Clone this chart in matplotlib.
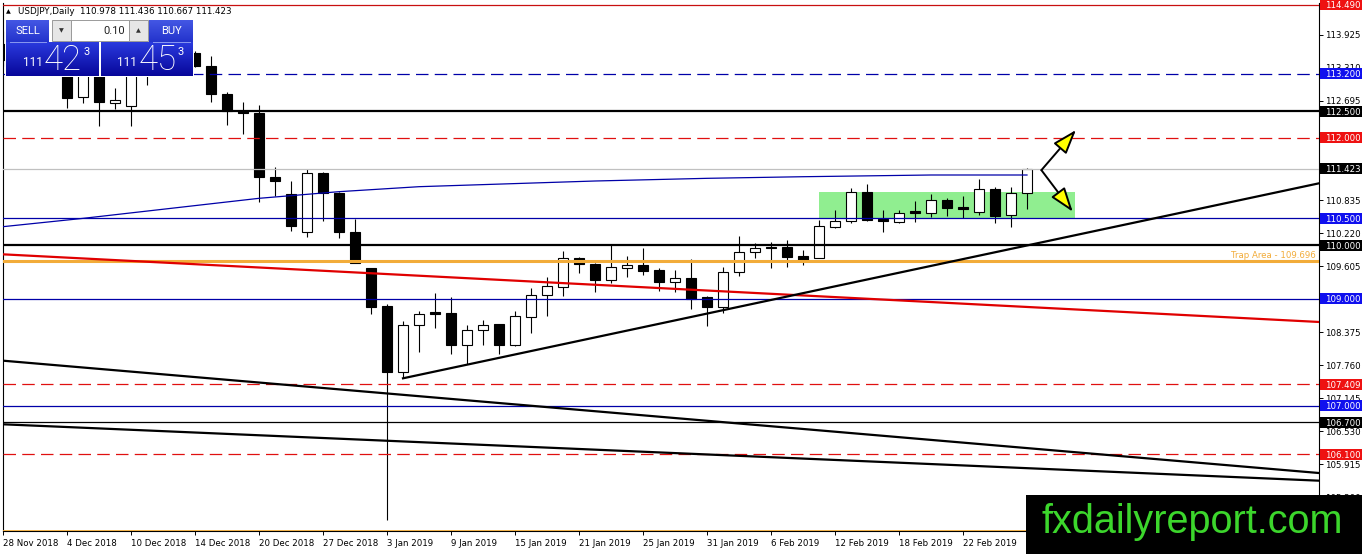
import matplotlib
matplotlib.use("Agg")
import matplotlib.pyplot as plt
import matplotlib.transforms as mtransforms
from matplotlib.patches import Rectangle, FancyArrowPatch
from matplotlib.colors import LinearSegmentedColormap
import numpy as np

plt.rcParams['lines.scale_dashes'] = False
plt.rcParams['font.family'] = ['DejaVu Sans']

# ---------------- data ----------------
symbol = "USDJPY,Daily"
opens = [113.75, 113.45, 113.40, 113.65, 113.60, 112.76, 113.25, 112.647, 112.602, 113.35,
         113.30, 113.60, 113.59, 113.343, 112.82, 112.509, 112.471, 111.272, 110.955, 110.251,
         111.341, 110.979, 110.246, 109.568, 108.865, 107.639, 108.505, 108.716, 108.729, 108.143,
         108.412, 108.524, 108.143, 108.665, 109.065, 109.225, 109.755, 109.649, 109.356, 109.58,
         109.63, 109.537, 109.318, 109.382, 109.027, 108.852, 109.494, 109.867, 109.956, 109.96,
         109.798, 109.766, 110.344, 110.451, 110.986, 110.46, 110.438, 110.61, 110.605, 110.843,
         110.684, 110.624, 111.048, 110.563, 110.978]
highs = [114.00, 113.65, 113.75, 113.85, 113.72, 113.30, 113.40, 112.93, 113.50, 113.60,
         113.75, 113.75, 113.62, 113.529, 112.852, 112.665, 112.615, 111.464, 111.197, 111.415,
         111.36, 110.998, 110.488, 109.574, 108.897, 108.585, 108.772, 109.113, 109.027, 108.505,
         108.604, 108.53, 108.772, 109.195, 109.40, 109.891, 109.774, 109.673, 110.003, 109.798,
         109.942, 109.58, 109.537, 109.736, 109.052, 109.587, 110.17, 110.035, 110.065, 110.096,
         109.91, 110.47, 110.656, 111.072, 111.141, 110.656, 110.656, 110.824, 110.955, 110.874,
         110.917, 111.229, 111.091, 111.091, 111.436]
lows = [113.35, 113.30, 113.30, 113.40, 112.56, 112.647, 112.23, 112.54, 112.23, 112.99,
        113.25, 113.35, 113.33, 112.677, 112.242, 112.074, 110.811, 110.917, 110.27, 110.158,
        110.456, 110.139, 109.66, 108.71, 104.87, 107.516, 108.012, 108.46, 107.97, 107.783,
        108.138, 107.97, 108.119, 108.367, 108.684, 109.052, 109.475, 109.132, 109.30, 109.412,
        109.443, 109.15, 109.132, 108.803, 108.492, 108.729, 109.425, 109.766, 109.565, 109.598,
        109.63, 109.755, 110.326, 110.419, 110.451, 110.251, 110.419, 110.438, 110.531, 110.55,
        110.501, 110.563, 110.419, 110.345, 110.667]
closes = [113.45, 113.40, 113.55, 113.62, 112.75, 113.20, 112.665, 112.703, 113.35, 113.30,
          113.60, 113.62, 113.348, 112.815, 112.509, 112.46, 111.266, 111.203, 110.363, 111.341,
          110.968, 110.246, 109.662, 108.852, 107.639, 108.505, 108.71, 108.72, 108.137, 108.412,
          108.505, 108.143, 108.673, 109.065, 109.233, 109.755, 109.643, 109.35, 109.593, 109.63,
          109.524, 109.318, 109.382, 108.996, 108.852, 109.494, 109.867, 109.941, 109.947, 109.785,
          109.71, 110.352, 110.456, 110.986, 110.464, 110.451, 110.594, 110.605, 110.837, 110.688,
          110.675, 111.042, 110.55, 110.968, 111.423]

date_tick_bars = [0, 4, 8, 12, 16, 20, 24, 28, 32, 36, 40, 44, 48, 52, 56, 60]
date_labels = ["28 Nov 2018", "4 Dec 2018", "10 Dec 2018", "14 Dec 2018", "20 Dec 2018",
               "27 Dec 2018", "3 Jan 2019", "9 Jan 2019", "15 Jan 2019", "21 Jan 2019",
               "25 Jan 2019", "31 Jan 2019", "6 Feb 2019", "12 Feb 2019", "18 Feb 2019",
               "22 Feb 2019"]

price_ticks = [113.925, 113.310, 112.695, 110.835, 110.220, 109.605,
               108.375, 107.760, 107.145, 106.530, 105.915, 105.300]

# horizontal levels
level_prices = [114.490, 113.200, 112.500, 112.000, 111.423, 110.500, 110.000, 109.696,
                109.000, 107.409, 107.000, 106.700, 106.100]
trap_label = "Trap Area - 109.696"

# moving average (read at a few bars)
ma_bars = [0, 5, 16, 21, 26, 37, 44, 50, 58, 64]
ma_values = [110.345, 110.50, 110.874, 110.998, 111.091, 111.197, 111.247, 111.277, 111.309, 111.309]

# trend lines (bar index, price)
red_line_bars, red_line_prices = [0, 82.25], [109.829, 108.567]
up_line_bars, up_line_prices = [25, 82.25], [107.516, 111.154]
down_a_bars, down_a_prices = [0, 82.25], [107.845, 105.749]
down_b_bars, down_b_prices = [0, 82.25], [106.658, 105.606]

# consolidation zone
zone_bars = [51.0, 67.0]
zone_prices = [110.512, 110.986]

# scenario arrows
arrow_start = (64.9, 111.40)
arrow_up_tip = (67.06, 112.148)
arrow_down_tip = (66.86, 110.624)

lot_size = "0.10"
bid_parts = ("111", "42", "3")
ask_parts = ("111", "45", "3")
watermark = "fxdailyreport.com"

# ---------------- figure ----------------
W, H = 1362, 554
fig = plt.figure(figsize=(W / 100, H / 100), dpi=100)
fig.patch.set_facecolor('white')
PX = 53.6          # pixels per price unit
BARPX = 16         # pixels per bar
l_px, r_px, t_px, b_px = 3, 1319, 3, 531
ax = fig.add_axes([l_px / W, 1 - b_px / H, (r_px - l_px) / W, (b_px - t_px) / H])
y_top = level_prices[0] + 1.5 / PX
y_bot = level_prices[0] - (b_px - 4.5) / PX
ax.set_ylim(y_bot, y_top)
ax.set_xlim(0, (r_px - l_px) / BARPX)
ax.set_facecolor('white')

ax.spines['top'].set_visible(False)
for s in ['left', 'right', 'bottom']:
    ax.spines[s].set_color('black')
    ax.spines[s].set_linewidth(0.8)

ax.yaxis.tick_right()
ax.set_yticks(price_ticks)
ax.set_yticklabels([f"{v:.3f}" for v in price_ticks])
ax.tick_params(axis='y', length=3, width=0.7, pad=1.5, labelsize=6.2, direction='out', colors='black')
ax.set_xticks(date_tick_bars)
ax.set_xticklabels(date_labels, ha='left')
ax.tick_params(axis='x', length=3, width=0.7, pad=2.5, labelsize=6.2, direction='out')

# zone (background)
ax.add_patch(Rectangle((zone_bars[0], zone_prices[0]), zone_bars[1] - zone_bars[0],
                       zone_prices[1] - zone_prices[0], fc='#90ee90', ec='none', zorder=1))

# candles
bw = 0.63
minh = 1.5 / PX
x = np.arange(len(opens))
ax.vlines(x, lows, highs, color='black', lw=0.8, zorder=2)
for i, (o, h, l, c) in enumerate(zip(opens, highs, lows, closes)):
    lo = min(o, c)
    hgt = max(abs(c - o), minh)
    fc = 'white' if c > o + 1e-9 else 'black'
    if abs(c - o) < minh:
        fc = 'black'
    ax.add_patch(Rectangle((i - bw / 2, lo), bw, hgt, fc=fc, ec='black', lw=0.8, zorder=2.5))

# levels
red = '#e01010'
navy = '#0000a8'
orange = '#f2ac3a'
dash = (0, (9, 4.5))
level_style = [
    dict(color='#c81010', lw=0.9, ls='-'),     # 114.49
    dict(color=navy, lw=0.9, ls=dash),          # 113.2
    dict(color='black', lw=1.6, ls='-'),        # 112.5
    dict(color=red, lw=0.9, ls=dash),           # 112.0
    dict(color='#c0c0c0', lw=0.9, ls='-'),      # 111.423
    dict(color=navy, lw=0.9, ls='-'),           # 110.5
    dict(color='black', lw=1.6, ls='-'),        # 110.0
    dict(color=orange, lw=2.2, ls='-'),         # 109.696
    dict(color=navy, lw=0.9, ls='-'),           # 109.0
    dict(color=red, lw=0.9, ls=dash),           # 107.409
    dict(color=navy, lw=0.9, ls='-'),           # 107.0
    dict(color='black', lw=0.9, ls='-'),        # 106.7
    dict(color=red, lw=0.9, ls=dash),           # 106.1
]
for p, st in zip(level_prices, level_style):
    ax.axhline(p, zorder=3, **st)
ax.axhline(y_bot + 0.5 / PX, color=orange, lw=2.0, zorder=3)

ax.text((1316 - l_px) / (r_px - l_px), level_prices[7] + 1.2 / PX, trap_label,
        transform=mtransforms.blended_transform_factory(ax.transAxes, ax.transData),
        ha='right', va='bottom', color=orange, fontsize=6.2, zorder=4)

# MA and trend lines
ax.plot(ma_bars, ma_values, color=navy, lw=0.9, zorder=3)
ax.plot(red_line_bars, red_line_prices, color='#e00000', lw=1.6, zorder=3)
ax.plot(up_line_bars, up_line_prices, color='black', lw=1.6, zorder=3)
ax.plot(down_a_bars, down_a_prices, color='black', lw=1.6, zorder=3)
ax.plot(down_b_bars, down_b_prices, color='black', lw=1.6, zorder=3)

for tip in (arrow_up_tip, arrow_down_tip):
    ax.add_patch(FancyArrowPatch(arrow_start, tip,
                                 arrowstyle='-|>,head_length=0.75,head_width=0.26',
                                 mutation_scale=20, fc='#ffff00', ec='black', lw=1.4,
                                 shrinkA=0, shrinkB=0, zorder=6))

# right axis label boxes
trans = mtransforms.blended_transform_factory(fig.transFigure, ax.transData)
box_colors = ['#ee1111', '#1010ee', 'black', '#ee1111', 'black', '#1010ee', 'black', None,
              '#1010ee', '#ee1111', '#1010ee', 'black', '#ee1111']
for p, bc in zip(level_prices, box_colors):
    if bc is None:
        continue
    fig.add_artist(Rectangle((1320 / W, p - 5.5 / PX), 42 / W, 11 / PX, transform=trans,
                             fc=bc, ec='none', zorder=5))
    fig.text(1325 / W, p, f"{p:.3f}", transform=trans, color='white', fontsize=6.2,
             va='center_baseline', ha='left', zorder=6)

# ---------------- overlay (pixel coords) ----------------
axo = fig.add_axes([0, 0, 1, 1], zorder=10)
axo.set_facecolor('none')
axo.axis('off')


def grad_box(x0, y0, x1, y1, c_top, c_bot):
    cmap = LinearSegmentedColormap.from_list('g', [c_top, c_bot])
    g = np.linspace(0, 1, 64).reshape(-1, 1)
    axo.imshow(g, extent=(x0, x1, y1, y0), cmap=cmap, aspect='auto',
               interpolation='bilinear', zorder=2)


axo.add_patch(Rectangle((5, 18), 189, 59, fc='white', ec='none', zorder=1))
grad_box(6, 20, 49, 42, '#4457e4', '#2333cc')
grad_box(149, 20, 193, 42, '#4457e4', '#2333cc')
grad_box(6, 42.5, 99, 76, '#2a3ade', '#07079a')
grad_box(101, 42.5, 193, 76, '#2a3ade', '#07079a')
axo.plot([10, 46], [41.6, 41.6], color='#8a98f0', lw=0.7, zorder=3)
axo.plot([153, 190], [41.6, 41.6], color='#8a98f0', lw=0.7, zorder=3)
axo.add_patch(Rectangle((52, 20), 19, 21, fc='#e6e6e6', ec='#9a9a9a', lw=0.7, zorder=2))
axo.add_patch(Rectangle((71, 20), 58, 21, fc='white', ec='#9a9a9a', lw=0.7, zorder=2))
axo.add_patch(Rectangle((129, 20), 19, 21, fc='#e6e6e6', ec='#9a9a9a', lw=0.7, zorder=2))
axo.text(61.5, 30.5, '▼', fontsize=4.5, ha='center', va='center', color='#333333', zorder=4)
axo.text(138.5, 30.5, '▲', fontsize=4.5, ha='center', va='center', color='#333333', zorder=4)
axo.text(125, 31, lot_size, fontsize=8, ha='right', va='center', color='#222222',
         family=['Roboto', 'DejaVu Sans'], zorder=4)
axo.text(27.5, 31, 'SELL', fontsize=8, ha='center', va='center', color='white',
         family=['Roboto', 'DejaVu Sans'], zorder=4)
axo.text(171, 31, 'BUY', fontsize=8, ha='center', va='center', color='white',
         family=['Roboto', 'DejaVu Sans'], zorder=4)
for (x_small, x_big, x_sup), parts in (((23, 45, 83), bid_parts), ((117, 140, 178), ask_parts)):
    axo.text(x_small, 66, parts[0], fontsize=8.5, ha='left', va='baseline', color='white',
             family=['Roboto', 'DejaVu Sans'], zorder=4)
    axo.text(x_big - 1, 70, parts[1], fontsize=25, ha='left', va='baseline', color='white',
             family=['Roboto', 'DejaVu Sans'], weight='light', zorder=4)
    axo.text(x_sup, 55, parts[2], fontsize=8, ha='left', va='baseline', color='white',
             family=['Roboto', 'DejaVu Sans'], zorder=4)

# header
axo.text(6, 11.5, '▲', fontsize=4.5, ha='left', va='center', color='black', zorder=4)
axo.text(18, 11.5, f"{symbol}  {opens[-1]:.3f} {highs[-1]:.3f} {lows[-1]:.3f} {closes[-1]:.3f}",
         fontsize=6.3, ha='left', va='center', color='black', zorder=4)

# watermark
axo.add_patch(Rectangle((1026, 495), 336, 59, fc='black', ec='none', zorder=5))
axo.text(1042, 533, watermark, fontsize=28.5, ha='left', va='baseline', color='#3cd62c',
         family=['Liberation Sans', 'DejaVu Sans'], zorder=6)

axo.set_xlim(0, W)
axo.set_ylim(H, 0)

fig.savefig('out.png', dpi=100, facecolor='white')
